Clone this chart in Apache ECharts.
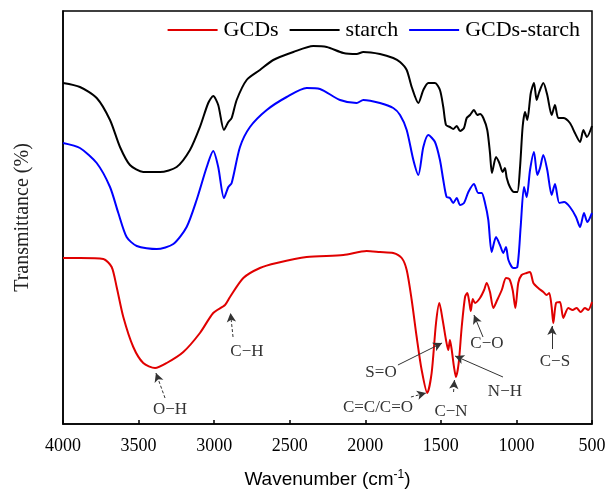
<!DOCTYPE html>
<html>
<head>
<meta charset="utf-8">
<script src="https://cdn.jsdelivr.net/npm/echarts@6/dist/echarts.min.js"></script>
<style>html,body{margin:0;padding:0;background:#fff}#c{width:606px;height:490px}</style>
</head>
<body>
<div id="c"></div>
<script>
// x ticks
var xTicks = [4000, 3500, 3000, 2500, 2000, 1500, 1000, 500];
var seriesNames = ['GCDs', 'starch', 'GCDs-starch'];

// starch (black)
var starchWn = [4000,3888,3777,3689,3623,3557,3469,3358,3248,3160,3094,3039,3006,2973,2935,2906,2884,2851,2785,2697,2609,2476,2344,2255,2145,2057,2013,1903,1815,1770,1726,1693,1649,1616,1583,1539,1506,1484,1466,1440,1418,1395,1373,1347,1329,1307,1281,1259,1241,1219,1193,1175,1162,1135,1113,1091,1076,1064,1043,1016,994,976,959,943,928,905,884,866,849,822,796,767,745,723,690,646,613,579,557,534,500];
var starchT = [341,337,326,304,277,259,252,252,257,274,297,321,328,319,294,302,306,324,344,354,364,372,378,377,371,370,372,370,366,362,354,337,321,334,341,341,334,317,299,297,295,298,293,296,306,309,314,309,310,306,294,271,251,267,261,252,256,246,237,232,232,257,297,312,304,331,341,324,332,341,329,309,319,306,306,301,291,282,294,287,298];

// GCDs-starch (blue)
var mixWn = [4000,3888,3777,3689,3634,3579,3512,3380,3270,3182,3116,3049,3006,2973,2935,2906,2884,2829,2763,2652,2520,2388,2300,2167,2057,2013,1903,1815,1770,1726,1682,1649,1616,1583,1539,1506,1484,1462,1440,1418,1395,1373,1347,1318,1281,1253,1230,1208,1186,1164,1135,1109,1087,1069,1053,1021,994,972,950,932,910,884,862,844,822,796,767,745,716,685,646,606,579,553,531,500];
var mixT = [281,276,261,237,211,187,178,175,180,197,224,257,273,257,226,237,241,277,297,314,327,336,335,324,321,324,321,316,309,294,264,249,277,289,282,264,244,227,226,221,226,219,221,232,240,231,231,221,204,172,187,179,171,177,164,156,157,197,237,227,254,272,249,256,269,254,229,240,221,222,217,207,197,211,202,211];

// GCDs (red)
var gcdWn = [4000,3888,3733,3678,3645,3601,3535,3469,3391,3314,3204,3094,3006,2928,2895,2807,2697,2586,2388,2145,1991,1903,1815,1759,1726,1693,1660,1627,1590,1561,1532,1510,1488,1466,1451,1440,1428,1413,1400,1382,1362,1340,1325,1312,1302,1289,1274,1241,1214,1197,1175,1153,1127,1097,1069,1047,1025,1007,988,966,933,910,888,856,822,800,783,767,756,738,712,690,657,628,602,575,547,525,500];
var gcdT = [166,166,165,157,137,107,77,61,56,61,72,91,111,119,127,146,156,161,167,169,173,172,171,166,154,124,87,54,31,51,101,121,104,84,74,84,74,57,47,61,97,127,131,122,113,125,121,126,134,141,132,116,124,134,146,145,134,116,141,149,151,152,141,136,132,129,131,117,101,121,122,106,116,114,116,112,116,114,122];

// annotations
var annNames = ['O\u2212H','C\u2212H','C=C/C=O','S=O','C\u2212N','N\u2212H','C\u2212O','C\u2212S'];
var annText = [[3292,14],[2783,72],[1916,16],[1896,51],[1433,12],[1076,32],[1195,80],[745,62]];
var arrowFrom = [[3325,26],[2875,87],[1698,27],[1784,59],[1416,32],[1089,47],[1221,87],[765,75]];
var arrowTo = [[3385,51],[2892,111],[1598,31],[1492,81],[1410,44],[1406,68],[1281,109],[765,98]];
var arrowDashed = [true,true,true,false,true,false,false,false];

function pairs(xs, ys){ return xs.map(function(x,i){ return [x, ys[i]]; }); }

var chart = echarts.init(document.getElementById('c'), null, {renderer:'canvas'});
var serif = '"Liberation Serif","Times New Roman",serif';

var option = {
  animation: false,
  backgroundColor: '#fff',
  grid: {left: 63, right: 14, top: 11, bottom: 66, show: true, borderColor: '#000', borderWidth: 1.5,
         containLabel: false, outerBoundsMode: 'none'},
  legend: {
    data: seriesNames,
    right: 21, top: 14,
    icon: 'rect',
    itemWidth: 50, itemHeight: 2, itemGap: 11,
    textStyle: {fontFamily: serif, fontSize: 22, color: '#000', padding: [0,0,0,1]}
  },
  xAxis: {
    type: 'value', inverse: true, min: 500, max: 4000, interval: 500,
    axisLine: {show: true, lineStyle: {color: '#000', width: 1.5}},
    axisTick: {show: true, inside: true, length: 4, lineStyle: {color: '#000', width: 1.5}},
    axisLabel: {fontFamily: serif, fontSize: 18, color: '#000', margin: 13,
      formatter: function(v){ return xTicks.indexOf(v) >= 0 ? String(v) : ''; }},
    splitLine: {show: false},
    name: '{a|Wavenumber (cm}{s|-1}{a|)}',
    nameLocation: 'middle', nameGap: 45,
    nameTextStyle: {
      rich: {
        a: {fontFamily: '"Liberation Sans",Arial,sans-serif', fontSize: 19, color: '#000'},
        s: {fontFamily: '"Liberation Sans",Arial,sans-serif', fontSize: 12, color: '#000', verticalAlign: 'top', padding: [0,0,10,0]}
      }
    }
  },
  yAxis: {
    type: 'value', min: 0, max: 413,
    axisLine: {show: true, lineStyle: {color: '#000', width: 1.5}},
    axisTick: {show: false}, axisLabel: {show: false}, splitLine: {show: false},
    name: 'Transmittance (%)', nameLocation: 'middle', nameGap: 30,
    nameTextStyle: {fontFamily: serif, fontSize: 20, color: '#222'}
  },
  series: [
    {
      name: 'GCDs', type: 'line', data: pairs(gcdWn, gcdT), symbol: 'none', smooth: 0.25,
      lineStyle: {color: '#e00000', width: 2}, itemStyle: {color: '#e00000'}, z: 3,
      markLine: {
        silent: true, animation: false,
        symbol: ['none', 'arrow'], symbolSize: [7, 9],
        label: {show: false},
        data: arrowFrom.map(function(f, i){
          return [
            {coord: f, lineStyle: {color: '#333', width: 1, type: arrowDashed[i] ? [3,2] : 'solid'}},
            {coord: arrowTo[i]}
          ];
        })
      },
      markPoint: {
        silent: true, animation: false,
        symbol: 'circle', symbolSize: 1, itemStyle: {color: 'rgba(0,0,0,0)'},
        label: {show: true, position: 'inside', formatter: '{b}', fontFamily: serif, fontSize: 17, color: '#333'},
        data: annText.map(function(p, i){ return {name: annNames[i], coord: p}; })
      }
    },
    {
      name: 'starch', type: 'line', data: pairs(starchWn, starchT), symbol: 'none', smooth: 0.25,
      lineStyle: {color: '#000', width: 2}, itemStyle: {color: '#000'}
    },
    {
      name: 'GCDs-starch', type: 'line', data: pairs(mixWn, mixT), symbol: 'none', smooth: 0.25,
      lineStyle: {color: '#0000ff', width: 2}, itemStyle: {color: '#0000ff'}
    }
  ]
};
chart.setOption(option);
</script>
</body>
</html>
